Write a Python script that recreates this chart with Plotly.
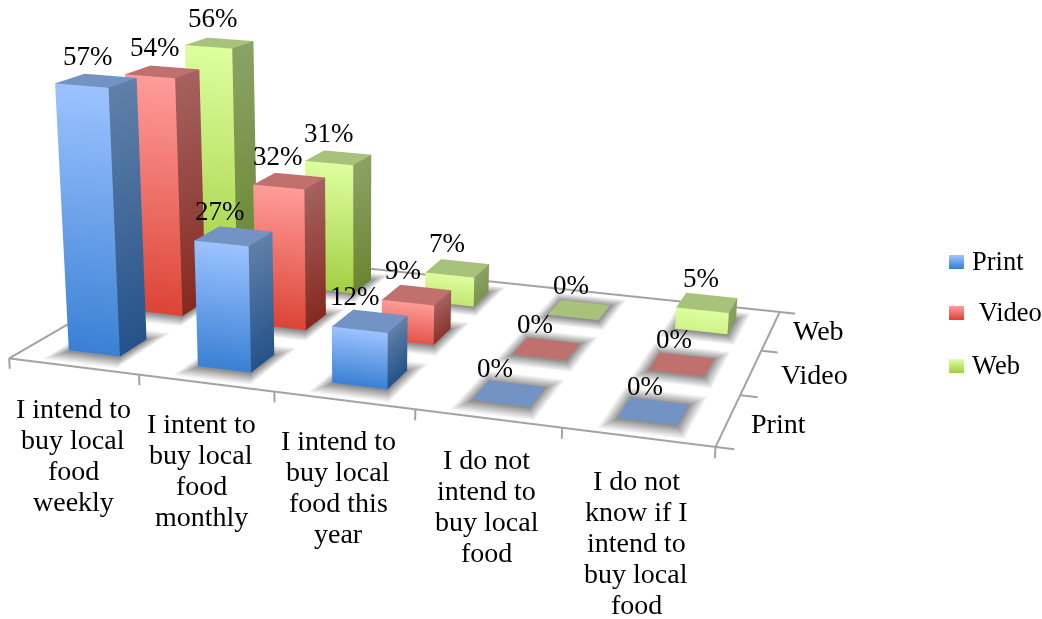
import plotly.graph_objects as go

categories = ["I intend to<br>buy local<br>food<br>weekly", "I intent to<br>buy local<br>food<br>monthly",
              "I intend to<br>buy local<br>food this<br>year", "I do not<br>intend to<br>buy local<br>food",
              "I do not<br>know if I<br>intend to<br>buy local<br>food"]
series = ["Print", "Video", "Web"]
print_values = [57, 27, 12, 0, 0]
video_values = [54, 32, 9, 0, 0]
web_values = [56, 31, 7, 0, 5]
legend_labels = ["Print", "&nbsp;Video", "Web"]

# The scene is taller than the window so the lens stays long; it is slid up by Y_OFFSET.
W_PAGE, H_PAGE = 1042, 1488
Y_OFFSET = 434
XR, YR, ZR = [-0.2, 5.2], [-0.2, 3.2], [-6, 60]
EYE = (0.7471, -2.2295, 0.6098)
CENTER = (0.1497, -0.0067, -0.1151)
UP = (-0.028, 0, 1)
ASPECT = (1, 0.6307, 0.4108)
BAR_W, BAR_D = 0.401, 0.4065

COLORS = {
    "Print": dict(ft="#9CC3FF", fb="#3A80D4", st="#6080A8", sb="#25528A", top="#7293C3"),
    "Video": dict(ft="#FF9C99", fb="#DC4436", st="#A56260", sb="#85291F", top="#C0716E"),
    "Web": dict(ft="#DDFF9E", fb="#A4CF45", st="#8AA366", sb="#6A8530", top="#A8C27C"),
}
FLAT = dict(ambient=1, diffuse=0, specular=0, roughness=1, fresnel=0)
FONT = "Liberation Serif"

# small per-label adjustments (px) for text placed relative to the scene
PCT_NUDGE_X = {0: [0, -6, -7, -6, -1], 1: [0, -4, -6, -4, 0], 2: [2, -2, -2, 0, 2]}
CAT_NUDGE_X = [0, -5, -6, -1, -2]
CAT_TOP_SHIFT = [-42, -40, -40, -41, -43]
SER_NUDGE = [(21, -3), (28, -2), (20, 0)]
LEGEND_TOPS = [255, 306, 359]


def rgb(hex_color):
    return [int(hex_color[k:k + 2], 16) for k in (1, 3, 5)]


def mix(a, b, t):
    ca, cb = rgb(a), rgb(b)
    return "rgb(%d,%d,%d)" % tuple(round(p + (q - p) * t) for p, q in zip(ca, cb))


def bars_trace(values, j, c):
    X, Y, Z, I, J, K, VC = [], [], [], [], [], [], []

    def quad(verts, cols):
        n = len(X)
        for v, col in zip(verts, cols):
            X.append(v[0]); Y.append(v[1]); Z.append(v[2]); VC.append(col)
        I.extend([n, n]); J.extend([n + 1, n + 2]); K.extend([n + 2, n + 3])

    for i, val in enumerate(values):
        x0, x1 = i + .5 - BAR_W / 2, i + .5 + BAR_W / 2
        y0, y1 = j + .5 - BAR_D / 2, j + .5 + BAR_D / 2
        # short bars only reach part of the way down the gradient
        t = min(1, (val / 10) ** 2)
        fb, sb = mix(c["ft"], c["fb"], t), mix(c["st"], c["sb"], t)
        quad([(x0, y0, 0), (x1, y0, 0), (x1, y0, val), (x0, y0, val)], [fb, fb, c["ft"], c["ft"]])
        quad([(x1, y0, 0), (x1, y1, 0), (x1, y1, val), (x1, y0, val)], [sb, sb, c["st"], c["st"]])
        quad([(x0, y0, val), (x1, y0, val), (x1, y1, val), (x0, y1, val)], [c["top"]] * 4)
    return go.Mesh3d(x=X, y=Y, z=Z, i=I, j=J, k=K, vertexcolor=VC, flatshading=True,
                     hoverinfo="skip", lighting=FLAT, showscale=False)


def shadow_trace(n_cat, n_ser):
    # soft floor shadow: dark under the bar, fading to the white floor at the outer ring
    X, Y, Z, I, J, K, VC = [], [], [], [], [], [], []
    dx, dy, zs = .09, .22, -.2
    for i in range(n_cat):
        for j in range(n_ser):
            x0, x1 = i + .5 - BAR_W / 2, i + .5 + BAR_W / 2
            y0, y1 = j + .5 - BAR_D / 2, j + .5 + BAR_D / 2
            n = len(X)
            inner = [(x0, y0), (x1, y0), (x1, y1), (x0, y1)]
            outer = [(x0 - dx, y0 - dy), (x1 + dx, y0 - dy), (x1 + dx, y1 + dy), (x0 - dx, y1 + dy)]
            for v in inner:
                X.append(v[0]); Y.append(v[1]); Z.append(zs); VC.append("#8F8F8F")
            for v in outer:
                X.append(v[0]); Y.append(v[1]); Z.append(zs); VC.append("#FFFFFF")
            I.extend([n, n]); J.extend([n + 1, n + 2]); K.extend([n + 2, n + 3])
            for a in range(4):
                b = (a + 1) % 4
                I.extend([n + a, n + a]); J.extend([n + b, n + 4 + b]); K.extend([n + 4 + b, n + 4 + a])
    return go.Mesh3d(x=X, y=Y, z=Z, i=I, j=J, k=K, vertexcolor=VC, hoverinfo="skip",
                     lighting=FLAT, showscale=False)


all_values = [print_values, video_values, web_values]
nc, ns = len(categories), len(series)

fig = go.Figure()
fig.add_trace(shadow_trace(nc, ns))
for j, (name, vals) in enumerate(zip(series, all_values)):
    fig.add_trace(bars_trace(vals, j, COLORS[name]))

# floor outline and tick marks
LINE = dict(color="#A3A3A3", width=4)
fig.add_trace(go.Scatter3d(x=[0, nc, nc, 0, 0], y=[0, 0, ns, ns, 0], z=[0] * 5,
                           mode="lines", line=LINE, hoverinfo="skip"))
for i in range(nc + 1):
    fig.add_trace(go.Scatter3d(x=[i, i], y=[0, 0], z=[0, -2.3], mode="lines", line=LINE, hoverinfo="skip"))
for j in range(ns + 1):
    fig.add_trace(go.Scatter3d(x=[nc, nc + .12], y=[j, j], z=[0, 0], mode="lines", line=LINE, hoverinfo="skip"))

ann = []
for j, vals in enumerate(all_values):
    for i, v in enumerate(vals):
        ann.append(dict(x=i + .5, y=j + .5, z=v, text=f"{v}%", showarrow=False,
                        xshift=-8 + PCT_NUDGE_X[j][i], yshift=25,
                        font=dict(family=FONT, size=27, color="#000")))
PITCH = 31
for i, label in enumerate(categories):
    for k, line in enumerate(label.split("<br>")):
        ann.append(dict(x=i + .5, y=0, z=0, text=line, showarrow=False, yanchor="middle",
                        xshift=CAT_NUDGE_X[i], yshift=CAT_TOP_SHIFT[i] - k * PITCH,
                        font=dict(family=FONT, size=28, color="#000")))
for j, name in enumerate(series):
    ann.append(dict(x=nc, y=j + .5, z=0, text=name, showarrow=False, xanchor="left",
                    xshift=SER_NUDGE[j][0], yshift=SER_NUDGE[j][1],
                    font=dict(family=FONT, size=28, color="#000")))


def px(x):
    return x / W_PAGE


def py(y):
    return 1 - (y + Y_OFFSET) / H_PAGE


# legend: swatches built from thin strips so they carry the bar gradient
shapes, page_ann = [], []
for name, top, text in zip(series, LEGEND_TOPS, legend_labels):
    c = COLORS[name]
    for row in range(14):
        shapes.append(dict(type="rect", xref="paper", yref="paper", x0=px(949), x1=px(964),
                           y0=py(top + row), y1=py(top + row + 1), fillcolor=mix(c["ft"], c["fb"], row / 13),
                           line_width=0, layer="above"))
    page_ann.append(dict(xref="paper", yref="paper", x=px(970), y=py(top + 6), text=text, showarrow=False,
                         xanchor="left", yanchor="middle", font=dict(family=FONT, size=26.5, color="#000")))

hidden = dict(visible=False, showgrid=False, zeroline=False, showbackground=False, showticklabels=False)
fig.update_layout(
    width=W_PAGE, height=H_PAGE, margin=dict(l=0, r=0, t=0, b=0), showlegend=False,
    paper_bgcolor="white", shapes=shapes, annotations=page_ann,
    scene=dict(
        domain=dict(x=[0, 1], y=[0, 1]), dragmode="orbit",
        xaxis=dict(range=XR, **hidden), yaxis=dict(range=YR, **hidden), zaxis=dict(range=ZR, **hidden),
        aspectmode="manual", aspectratio=dict(x=ASPECT[0], y=ASPECT[1], z=ASPECT[2]),
        camera=dict(eye=dict(x=EYE[0], y=EYE[1], z=EYE[2]),
                    center=dict(x=CENTER[0], y=CENTER[1], z=CENTER[2]),
                    up=dict(x=UP[0], y=UP[1], z=UP[2]), projection=dict(type="perspective")),
        annotations=ann,
    ),
)
fig.write_html("out.html", post_script=(
    "document.documentElement.style.overflow='hidden';document.body.style.overflow='hidden';"
    "document.body.style.height='619px';"
    "var gd=document.querySelector('.plotly-graph-div');gd.style.position='absolute';gd.style.top='-%dpx';" % Y_OFFSET))
